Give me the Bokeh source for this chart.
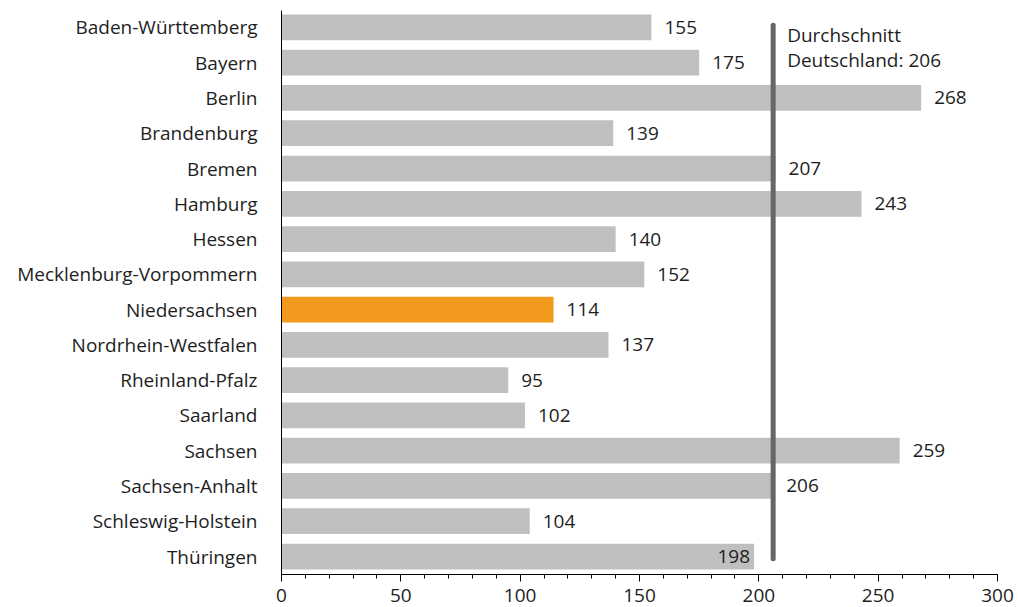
from bokeh.plotting import figure
from bokeh.models import Range1d, FixedTicker, SingleIntervalTicker, ColumnDataSource
from bokeh.core.properties import value
from bokeh.embed import file_html
from bokeh.resources import INLINE

states = ["Baden-Württemberg", "Bayern", "Berlin", "Brandenburg", "Bremen", "Hamburg",
          "Hessen", "Mecklenburg-Vorpommern", "Niedersachsen", "Nordrhein-Westfalen",
          "Rheinland-Pfalz", "Saarland", "Sachsen", "Sachsen-Anhalt", "Schleswig-Holstein",
          "Thüringen"]
values = [155, 175, 268, 139, 207, 243, 140, 152, 114, 137, 95, 102, 259, 206, 104, 198]
highlight = "Niedersachsen"
average = 206
avg_label_lines = ["Durchschnitt", "Deutschland: 206"]

FONT = "Open Sans"
FS = "19px"
TXT = "#1e1e1e"
GRAY = "#bfbfbf"
ORANGE = "#f39a1e"

n = len(states)
ys = [n - 1 - i for i in range(n)]
colors = [ORANGE if s == highlight else GRAY for s in states]

p = figure(frame_width=716, frame_height=564, output_backend="svg", toolbar_location=None,
           x_range=Range1d(0, 300), y_range=Range1d(-0.51, n - 1 + 0.48),
           min_border_left=281, min_border_right=21, min_border_top=10, min_border_bottom=0)
p.outline_line_color = None
p.grid.visible = False
p.background_fill_color = "white"
p.border_fill_color = "white"

src = ColumnDataSource(dict(y=ys, v=values, c=colors))
p.hbar(y="y", right="v", left=0, height=0.73, color="c", line_color=None, source=src)

# value labels: outside the bar, except when the bar ends just left of the average line
inside = [(v < average and average - v < 15) for v in values]
out_idx = [i for i in range(n) if not inside[i]]
in_idx = [i for i in range(n) if inside[i]]
p.text(x=[values[i] for i in out_idx], y=[ys[i] for i in out_idx],
       text=[str(values[i]) for i in out_idx], x_offset=13,
       text_baseline="middle", text_align="left", text_font=value(FONT),
       text_font_size=FS, text_color=TXT)
p.text(x=[values[i] for i in in_idx], y=[ys[i] for i in in_idx],
       text=[str(values[i]) for i in in_idx], x_offset=-4,
       text_baseline="middle", text_align="right", text_font=value(FONT),
       text_font_size=FS, text_color=TXT)

# average line
p.segment(x0=[average], y0=[-0.06], x1=[average], y1=[n - 1 + 0.06],
          line_color="#666666", line_width=5, line_cap="round")
p.text(x=[average, average], y=[n - 1, n - 1], text=avg_label_lines,
       x_offset=14, y_offset=[8, 33],
       text_baseline="middle", text_align="left", text_font=value(FONT),
       text_font_size=FS, text_color=TXT)

# axes
xa = p.xaxis[0]
xa.ticker = SingleIntervalTicker(interval=50, num_minor_ticks=5)
xa.axis_line_color = "black"
xa.major_tick_out = 7
xa.major_tick_in = 0
xa.minor_tick_out = 4
xa.minor_tick_in = 0
xa.major_tick_line_color = "black"
xa.minor_tick_line_color = "black"
xa.major_label_text_font = FONT
xa.major_label_text_font_size = FS
xa.major_label_text_color = TXT
xa.major_label_standoff = 7

ya = p.yaxis[0]
ya.ticker = FixedTicker(ticks=ys)
ya.major_label_overrides = {y: s for y, s in zip(ys, states)}
ya.axis_line_color = "black"
ya.major_tick_out = 0
ya.major_tick_in = 0
ya.minor_tick_line_color = None
ya.major_label_text_font = FONT
ya.major_label_text_font_size = FS
ya.major_label_text_color = TXT
ya.major_label_standoff = 24

open("out.html", "w").write(file_html(p, INLINE))
